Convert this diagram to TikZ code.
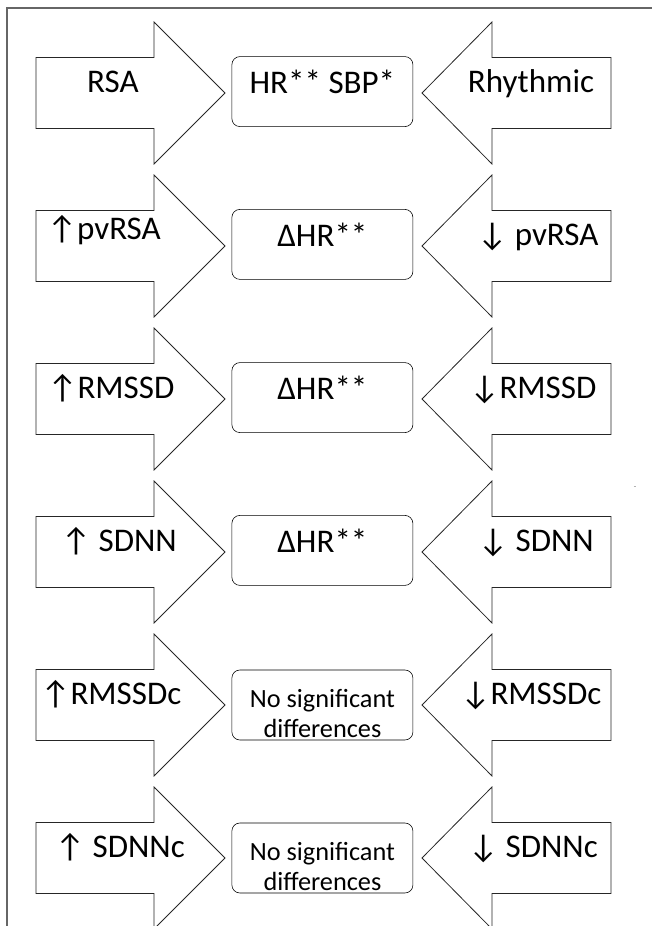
\documentclass[tikz,border=0pt]{standalone}
\usepackage{fontspec}
\setmainfont{Carlito}
\newcommand{\upsym}{↑}
\newcommand{\dnsym}{↓}

\begin{document}
\begin{tikzpicture}[x=1mm, y=1mm, font=\fontsize{23.5pt}{28pt}\selectfont,
	hrbox/.style={draw, rounded corners=2mm, minimum width=45.25mm, minimum height=17.5mm, inner sep=0pt, text height=0.75em, text depth=0.42em},
	nsbox/.style={draw, rounded corners=2mm, minimum width=45.25mm, minimum height=17.5mm, inner sep=0pt, text height=5.4mm, text depth=3.9mm, font=\fontsize{18.7pt}{21pt}\selectfont}]
	\useasboundingbox (0,0) rectangle (163,231.5);
	\draw [black!60, line width=0.3mm] (163,229.5) -- (1.75,229.5) -- (1.75,0);
	\foreach \y in {208.25,170,131.75,93.5,55.25,17} {
		\draw [black!85, line width=0.2mm] (9,\y+8.875) -- (38.5,\y+8.875) -- (38.5,\y+17.75) -- (56.25,\y) -- (38.5,\y-17.75) -- (38.5,\y-8.875) -- (9,\y-8.875) -- cycle;
		\draw [black!85, line width=0.2mm] (152.75,\y+8.875) -- (123,\y+8.875) -- (123,\y+17.75) -- (105.5,\y) -- (123,\y-17.75) -- (123,\y-8.875) -- (152.75,\y-8.875) -- cycle;
	}
	\node [anchor=base] (rsa) at (28.25,208.25) {RSA};
	\node [hrbox] (hrsbp) at (80.6,208.6) {HR** SBP*};
	\node [anchor=base] (rhythmic) at (132.75,208.25) {Rhythmic};
	\node [anchor=base] (pvrsaup) at (26,171.5) {\upsym pvRSA};
	\node [hrbox] (dhra) at (80.6,170.4) {ΔHR**};
	\node [anchor=base] (pvrsadn) at (134.5,170) {\dnsym\ pvRSA};
	\node [anchor=base] (rmssdup) at (27.75,131.75) {\upsym RMSSD};
	\node [hrbox] (dhrb) at (80.6,132.1) {ΔHR**};
	\node [anchor=base] (rmssddn) at (133.25,131.75) {\dnsym RMSSD};
	\node [anchor=base] (sdnnup) at (29.75,93.5) {\upsym\ SDNN};
	\node [hrbox] (dhrc) at (80.6,93.9) {ΔHR**};
	\node [anchor=base] (sdnndn) at (134,93.5) {\dnsym\ SDNN};
	\node [anchor=base] (rmssdcup) at (27.75,55.25) {\upsym RMSSDc};
	\node [nsbox] (nsa) at (80.6,55.25) {\begin{tabular}[t]{@{}c@{}}No significant\\differences\end{tabular}};
	\node [anchor=base] (rmssdcdn) at (132.75,55.25) {\dnsym RMSSDc};
	\node [anchor=base] (sdnncup) at (30,17) {\upsym\ SDNNc};
	\node [nsbox] (nsb) at (80.6,17) {\begin{tabular}[t]{@{}c@{}}No significant\\differences\end{tabular}};
	\node [anchor=base] (sdnncdn) at (133.25,17) {\dnsym\ SDNNc};
	\draw [black!30] (158.4,110) -- (159.1,110);
\end{tikzpicture}
\end{document}
